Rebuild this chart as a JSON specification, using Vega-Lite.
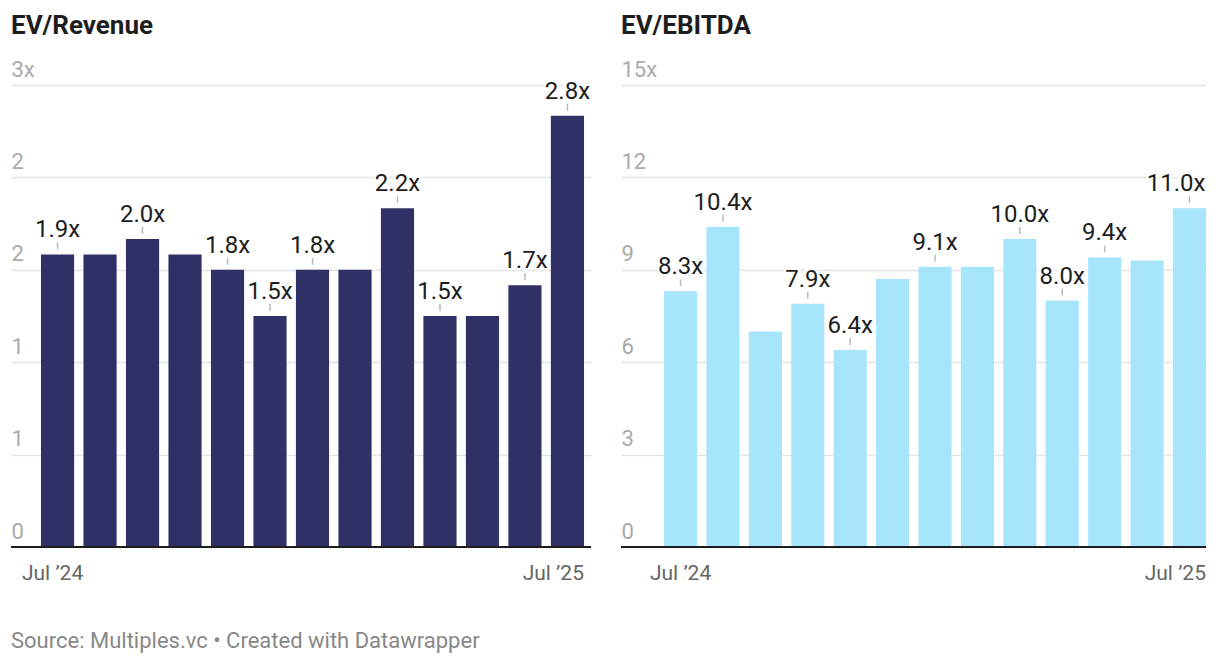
{
  "$schema": "https://vega.github.io/schema/vega-lite/v6.json",
  "padding": {"left": 10, "top": 13, "right": 15, "bottom": 10},
  "bounds": "flush",
  "spacing": 30,
  "config": {"font": "Roboto", "view": {"stroke": null}},
  "title": {"text": "Source: Multiples.vc • Created with Datawrapper", "orient": "bottom", "anchor": "start", "fontSize": 22, "fontWeight": "normal", "color": "#888888", "font": "Roboto", "offset": 48, "frame": "group"},
  "datasets": {
    "rev": [
      {"month": "2024-07", "value": 1.9, "label": "1.9x"},
      {"month": "2024-08", "value": 1.9, "label": ""},
      {"month": "2024-09", "value": 2.0, "label": "2.0x"},
      {"month": "2024-10", "value": 1.9, "label": ""},
      {"month": "2024-11", "value": 1.8, "label": "1.8x"},
      {"month": "2024-12", "value": 1.5, "label": "1.5x"},
      {"month": "2025-01", "value": 1.8, "label": "1.8x"},
      {"month": "2025-02", "value": 1.8, "label": ""},
      {"month": "2025-03", "value": 2.2, "label": "2.2x"},
      {"month": "2025-04", "value": 1.5, "label": "1.5x"},
      {"month": "2025-05", "value": 1.5, "label": ""},
      {"month": "2025-06", "value": 1.7, "label": "1.7x"},
      {"month": "2025-07", "value": 2.8, "label": "2.8x"}
    ],
    "ebitda": [
      {"month": "2024-07", "value": 8.3, "label": "8.3x"},
      {"month": "2024-08", "value": 10.4, "label": "10.4x"},
      {"month": "2024-09", "value": 7.0, "label": ""},
      {"month": "2024-10", "value": 7.9, "label": "7.9x"},
      {"month": "2024-11", "value": 6.4, "label": "6.4x"},
      {"month": "2024-12", "value": 8.7, "label": ""},
      {"month": "2025-01", "value": 9.1, "label": "9.1x"},
      {"month": "2025-02", "value": 9.1, "label": ""},
      {"month": "2025-03", "value": 10.0, "label": "10.0x"},
      {"month": "2025-04", "value": 8.0, "label": "8.0x"},
      {"month": "2025-05", "value": 9.4, "label": "9.4x"},
      {"month": "2025-06", "value": 9.3, "label": ""},
      {"month": "2025-07", "value": 11.0, "label": "11.0x"}
    ]
  },
  "hconcat": [
    {
      "width": 580,
      "height": 462,
      "data": {"name": "rev"},
      "title": {"text": "EV/Revenue", "anchor": "start", "frame": "group", "fontSize": 26, "fontWeight": "bold", "color": "#1d1d1d", "font": "Roboto", "offset": 19},
      "encoding": {
        "x": {"field": "month", "type": "ordinal", "scale": {"paddingInner": 0.22, "paddingOuter": 0.435, "align": 0.811},
          "axis": {"title": null, "domain": false, "ticks": false, "grid": false, "labelAngle": 0, "labelOverlap": false,
            "labelExpr": "datum.value == '2024-07' ? 'Jul ’24' : (datum.value == '2025-07' ? 'Jul ’25' : '')",
            "labelFontSize": 21, "labelColor": "#666666", "labelPadding": 15,
            "labelAlign": {"condition": {"test": "datum.value == '2025-07'", "value": "right"}, "value": "center"},
            "labelOffset": {"condition": {"test": "datum.value == '2025-07'", "value": 16.5}, "value": -5}}},
        "y": {"field": "value", "type": "quantitative", "scale": {"domain": [0, 3], "nice": false, "zero": true},
          "axis": {"title": null, "values": [0, 0.6, 1.2, 1.8, 2.4, 3], "labelExpr": "datum.value == 3 ? '3x' : format(datum.value, '.0f')",
            "domain": false, "ticks": false, "tickSize": 0, "labelPadding": 0, "labelAlign": "left", "labelBaseline": "alphabetic", "labelOffset": -9,
            "labelColor": "#aaaaaa", "labelFontSize": 22, "gridColor": "#e3e3e3", "gridWidth": 1.5}}
      },
      "layer": [
        {"mark": {"type": "bar", "color": "#2e3066"}},
        {"transform": [{"filter": "datum.label != ''"}], "mark": {"type": "rule", "yOffset": -12, "y2Offset": -5, "color": "#bbbbbb", "strokeWidth": 1.5}, "encoding": {"y2": {"field": "value"}}},
        {"transform": [{"filter": "datum.label != ''"}], "mark": {"type": "text", "dy": -17, "baseline": "alphabetic", "fontSize": 24, "stroke": "white", "strokeWidth": 5, "strokeJoin": "round", "color": "white"}, "encoding": {"text": {"field": "label"}}},
        {"transform": [{"filter": "datum.label != ''"}], "mark": {"type": "text", "dy": -17, "baseline": "alphabetic", "fontSize": 24, "color": "#1d1d1d"}, "encoding": {"text": {"field": "label"}}},
        {"mark": {"type": "rule", "color": "#1d1d1d", "strokeWidth": 2}, "encoding": {"x": null, "y": {"datum": 0, "type": "quantitative"}}}
      ]
    },
    {
      "width": 585,
      "height": 462,
      "data": {"name": "ebitda"},
      "title": {"text": "EV/EBITDA", "anchor": "start", "frame": "group", "fontSize": 26, "fontWeight": "bold", "color": "#1d1d1d", "font": "Roboto", "offset": 19},
      "encoding": {
        "x": {"field": "month", "type": "ordinal", "scale": {"paddingInner": 0.22, "paddingOuter": 0.507, "align": 1},
          "axis": {"title": null, "domain": false, "ticks": false, "grid": false, "labelAngle": 0, "labelOverlap": false,
            "labelExpr": "datum.value == '2024-07' ? 'Jul ’24' : (datum.value == '2025-07' ? 'Jul ’25' : '')",
            "labelFontSize": 21, "labelColor": "#666666", "labelPadding": 15,
            "labelAlign": {"condition": {"test": "datum.value == '2025-07'", "value": "right"}, "value": "center"},
            "labelOffset": {"condition": {"test": "datum.value == '2025-07'", "value": 16.5}, "value": 0}}},
        "y": {"field": "value", "type": "quantitative", "scale": {"domain": [0, 15], "nice": false, "zero": true},
          "axis": {"title": null, "values": [0, 3, 6, 9, 12, 15], "labelExpr": "datum.value == 15 ? '15x' : format(datum.value, '.0f')",
            "domain": false, "ticks": false, "tickSize": 0, "labelPadding": 0, "labelAlign": "left", "labelBaseline": "alphabetic", "labelOffset": -9,
            "labelColor": "#aaaaaa", "labelFontSize": 22, "gridColor": "#e3e3e3", "gridWidth": 1.5}}
      },
      "layer": [
        {"mark": {"type": "bar", "color": "#a7e5fc"}},
        {"transform": [{"filter": "datum.label != ''"}], "mark": {"type": "rule", "yOffset": -12, "y2Offset": -5, "color": "#bbbbbb", "strokeWidth": 1.5}, "encoding": {"y2": {"field": "value"}}},
        {"transform": [{"filter": "datum.label != ''"}], "mark": {"type": "text", "dy": -17, "baseline": "alphabetic", "fontSize": 24, "stroke": "white", "strokeWidth": 5, "strokeJoin": "round", "color": "white", "align": {"expr": "datum.month == '2025-07' ? 'right' : 'center'"}, "dx": {"expr": "datum.month == '2025-07' ? 16 : 0"}}, "encoding": {"text": {"field": "label"}}},
        {"transform": [{"filter": "datum.label != ''"}], "mark": {"type": "text", "dy": -17, "baseline": "alphabetic", "fontSize": 24, "color": "#1d1d1d", "align": {"expr": "datum.month == '2025-07' ? 'right' : 'center'"}, "dx": {"expr": "datum.month == '2025-07' ? 16 : 0"}}, "encoding": {"text": {"field": "label"}}},
        {"mark": {"type": "rule", "color": "#1d1d1d", "strokeWidth": 2}, "encoding": {"x": null, "y": {"datum": 0, "type": "quantitative"}}}
      ]
    }
  ]
}
